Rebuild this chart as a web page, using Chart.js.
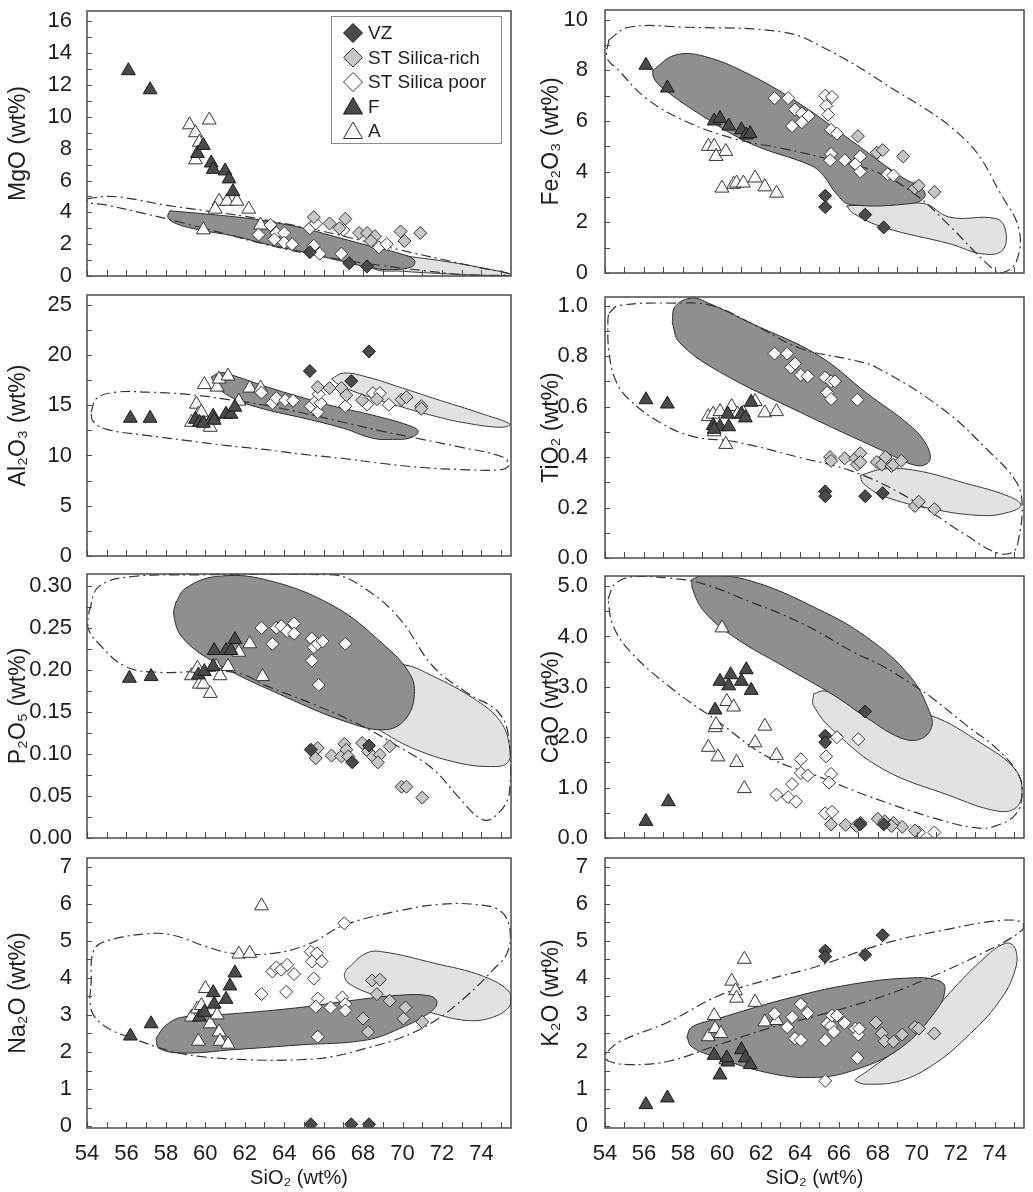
<!DOCTYPE html>
<html>
<head>
<meta charset="utf-8">
<script src="https://cdn.jsdelivr.net/npm/chart.js"></script>
<style>
  body { margin: 0; background: #fff; }
  #wrap { position: relative; width: 1033px; height: 1192px; background: #fff; overflow: hidden; }
  #wrap canvas { position: absolute; }
</style>
</head>
<body>
<div id="wrap"></div>
<script>
// valores: [SiO2, óxido]
const seriesNames = ['VZ', 'ST Silica-rich', 'ST Silica poor', 'F', 'A'];
const xTickRange = [54, 75.5];

// MgO
const mgoVZ = [[65.3,1.5],[67.3,0.8],[68.2,0.6]];
const mgoRich = [[65.5,3.7],[66.3,3.3],[67.1,3.6],[66.8,3.0],[67.8,2.7],[68.2,2.7],[68.6,2.5],[68.4,2.2],[69.9,2.8],[70.9,2.7],[70.1,2.2]];
const mgoPoor = [[62.7,2.6],[63.3,3.2],[63.6,2.7],[63.5,2.3],[64.0,2.7],[64.0,2.1],[64.4,2.0],[65.3,3.0],[65.6,3.3],[65.5,1.9],[65.8,1.4],[66.9,1.4],[67.0,2.9],[68.8,1.8],[69.2,2.0]];
const mgoF = [[56.1,12.9],[57.2,11.7],[59.6,7.7],[59.9,8.2],[60.3,7.1],[60.4,6.7],[61.0,6.6],[61.2,6.1],[61.4,5.3]];
const mgoA = [[59.2,9.5],[60.2,9.8],[59.5,9.0],[59.7,8.4],[59.5,7.3],[60.7,4.7],[61.1,4.7],[61.6,4.7],[60.5,4.2],[62.2,4.2],[59.9,2.9],[62.8,3.2]];
const mgoDark = [[58.2,4.1],[60,3.9],[62,3.65],[63.1,3.45],[65,3.0],[66.5,2.5],[68,2.0],[69.9,1.4],[70.6,1.0],[70.5,0.6],[69.5,0.4],[68.5,0.5],[66.5,1.05],[65,1.5],[63.1,2.0],[61.5,2.5],[59.7,2.9],[58.5,3.3],[58.1,3.7]];
const mgoLight = [[68.5,1.5],[70.5,1.2],[72.5,0.85],[74.5,0.4],[75.5,0.12],[75.5,0.03],[74,0.05],[72,0.15],[70,0.3],[68.5,0.5]];
const mgoDash = [[54,4.85],[55,5.0],[56,4.9],[58,4.45],[60,4.1],[62,3.75],[64,3.3],[66,2.8],[68,2.2],[70,1.6],[72,1.05],[74,0.5],[75.4,0.15],[75,0.05],[73,0.1],[71,0.35],[69,0.65],[67,1.0],[65,1.45],[63,2.0],[61,2.65],[59,3.3],[57,3.9],[55,4.45],[54,4.65]];

// Fe2O3
const feVZ = [[65.3,3.05],[65.3,2.6],[67.35,2.3],[68.3,1.8]];
const feRich = [[66.98,5.4],[67.95,4.75],[68.25,4.85],[69.3,4.6],[69.9,3.35],[70.1,3.45],[70.9,3.2]];
const fePoor = [[62.7,6.9],[63.4,6.9],[63.75,6.45],[64.1,6.3],[64.45,6.2],[63.6,5.8],[64.1,5.95],[65.3,7.0],[65.65,6.95],[65.35,6.6],[65.45,6.25],[65.6,5.65],[65.9,5.5],[65.6,4.7],[65.55,4.45],[66.3,4.45],[66.85,4.3],[67.1,4.6],[67.1,4.0],[68.5,3.9],[68.8,3.85]];
const feF = [[56.1,8.2],[57.2,7.3],[59.6,6.0],[59.9,6.1],[60.35,5.8],[61.0,5.65],[61.25,5.45],[61.45,5.5]];
const feA = [[59.3,5.0],[59.6,5.0],[59.7,4.6],[60.2,4.8],[60.0,3.35],[60.6,3.5],[60.75,3.55],[61.1,3.55],[61.7,3.75],[62.2,3.4],[62.8,3.15]];
const feDark = [[56.45,8.0],[57.6,8.6],[59.1,8.55],[61.5,7.8],[64.05,6.65],[66.6,5.25],[69.1,3.85],[70.3,3.3],[70.4,3.0],[69.8,2.75],[66.6,2.7],[65.9,3.1],[65.2,3.85],[64.55,4.25],[61.5,5.1],[59.0,6.2],[56.95,7.3],[56.5,7.7]];
const feLight = [[66.4,2.65],[70.3,2.75],[71.7,2.2],[74.05,2.15],[74.55,1.7],[74.4,0.9],[73.4,0.75],[71.7,1.15],[68.3,1.8],[66.75,2.35]];
const feDash = [[54.2,9.2],[55.2,9.7],[58.1,9.7],[63.2,9.5],[65.2,8.9],[68.3,7.5],[72.5,5.25],[74.4,3.0],[75.25,1.7],[75.1,0.45],[74.4,0.02],[73.7,0.3],[71.7,1.85],[70.0,3.05],[67.9,4.0],[65.2,4.55],[63.2,4.9],[60.65,5.3],[58.1,6.0],[56.1,6.9],[54.7,8.0],[54.1,8.5]];

// Al2O3
const alVZ = [[65.3,18.4],[67.4,17.4],[68.3,20.35]];
const alRich = [[65.7,16.8],[66.3,16.7],[66.9,16.7],[67.15,16.0],[67.95,15.5],[68.7,15.6],[69.95,15.55],[70.2,15.8],[70.95,14.9],[70.95,14.65]];
const alPoor = [[62.85,16.25],[63.4,15.2],[63.6,15.7],[64.05,15.5],[64.45,15.45],[65.35,14.9],[65.7,14.3],[65.6,15.4],[65.85,15.2],[65.75,16.1],[67.1,14.9],[68.2,15.05],[68.5,16.2],[68.85,16.2],[69.3,15.05]];
const alF = [[56.2,13.7],[57.2,13.7],[59.5,13.6],[59.7,13.3],[59.9,13.2],[60.4,13.9],[60.45,13.5],[61.05,14.1],[61.3,14.1],[61.5,14.8]];
const alA = [[59.3,13.3],[59.55,15.1],[59.65,14.1],[59.8,14.3],[60.25,12.8],[59.95,17.05],[60.6,16.8],[60.7,17.6],[61.15,17.9],[61.7,15.4],[62.25,16.7],[62.8,16.7]];
const alDark = [[60.3,17.8],[60.8,18.25],[61.5,17.9],[63,16.9],[64.5,16.0],[66.5,14.9],[68.5,14.0],[70.3,13.0],[70.8,12.4],[70.4,11.75],[69.5,11.6],[68.5,11.7],[67,12.7],[65,13.7],[63,14.6],[61.5,15.6],[60.6,16.8]];
const alLight = [[66.4,17.6],[67,18.2],[68.2,17.8],[70,16.7],[71.55,15.7],[74.1,14.1],[75.45,13.1],[74.95,12.8],[73,13.3],[71.55,13.95],[70,14.8],[68.2,15.9],[66.9,16.9]];
const alDash = [[54.2,14.3],[54.5,15.7],[55.5,16.3],[57,16.3],[59,16.1],[61,15.6],[63,15.0],[65,14.2],[67,13.3],[69,12.4],[71,11.6],[73,10.8],[75,9.9],[75.4,9.1],[75,8.6],[73,8.6],[71,8.8],[69,9.2],[67,9.7],[65,10.1],[63,10.6],[61,11.0],[59,11.5],[57,12.0],[55,12.6],[54.3,13.4]];

// TiO2
const tiVZ = [[65.3,0.264],[65.3,0.245],[67.35,0.245],[68.25,0.257]];
const tiRich = [[65.55,0.40],[65.6,0.385],[66.3,0.395],[66.85,0.395],[67.1,0.415],[66.95,0.37],[67.1,0.38],[67.95,0.38],[68.2,0.37],[68.4,0.40],[68.7,0.365],[68.8,0.37],[69.2,0.385],[69.9,0.206],[70.1,0.223],[70.9,0.194]];
const tiPoor = [[62.7,0.81],[63.35,0.81],[63.55,0.755],[63.75,0.77],[64.05,0.725],[64.4,0.72],[65.3,0.715],[65.6,0.70],[65.8,0.70],[65.4,0.655],[65.6,0.63],[66.95,0.627]];
const tiF = [[56.1,0.627],[57.2,0.61],[59.55,0.525],[59.9,0.52],[60.35,0.52],[60.3,0.57],[61.0,0.57],[61.2,0.555],[61.5,0.617],[59.6,0.51]];
const tiA = [[59.3,0.56],[59.55,0.57],[59.9,0.58],[60.5,0.60],[60.8,0.57],[61.1,0.575],[61.7,0.62],[62.2,0.575],[62.8,0.58],[59.6,0.50],[60.2,0.45]];
const tiDark = [[57.45,0.932],[57.6,0.996],[58.45,1.03],[59.3,1.01],[61.5,0.93],[64.9,0.805],[67.45,0.652],[69.65,0.525],[70.5,0.448],[70.65,0.385],[70.0,0.366],[68.3,0.423],[64.05,0.576],[59.8,0.741],[57.8,0.856]];
const tiLight = [[67.1,0.327],[68.3,0.353],[70.0,0.346],[72.5,0.296],[74.7,0.245],[75.35,0.209],[74.7,0.181],[73.4,0.168],[70.8,0.194],[68.3,0.245],[67.25,0.296]];
const tiDash = [[54.2,0.97],[54.7,1.0],[57.6,1.01],[59.5,1.0],[61.5,0.93],[64.05,0.83],[66.6,0.786],[67.95,0.754],[71.35,0.589],[73.7,0.423],[75.05,0.308],[75.4,0.219],[75.2,0.066],[74.9,0.022],[74.05,0.022],[72.5,0.092],[69.15,0.257],[66.6,0.346],[64.05,0.397],[60.65,0.461],[58.6,0.48],[56.95,0.531],[55.25,0.627],[54.55,0.703],[54.2,0.818],[54.15,0.945]];

// P2O5
const pVZ = [[65.35,0.105],[67.45,0.090],[68.3,0.110]];
const pRich = [[65.7,0.107],[65.6,0.095],[66.4,0.098],[67.05,0.112],[66.9,0.097],[67.15,0.105],[67.25,0.097],[67.95,0.113],[68.25,0.103],[68.5,0.097],[68.85,0.099],[68.75,0.090],[69.35,0.109],[69.95,0.061],[70.2,0.061],[71.0,0.048]];
const pPoor = [[62.85,0.250],[63.4,0.231],[63.6,0.250],[63.85,0.252],[64.15,0.246],[64.5,0.255],[64.5,0.243],[65.4,0.237],[65.5,0.227],[65.7,0.231],[65.95,0.234],[65.4,0.211],[65.75,0.182],[67.1,0.231]];
const pF = [[56.15,0.190],[57.25,0.192],[59.65,0.194],[59.95,0.198],[60.4,0.204],[60.45,0.223],[61.05,0.223],[61.3,0.223],[61.5,0.236]];
const pA = [[59.3,0.193],[59.6,0.202],[59.7,0.183],[59.9,0.183],[60.25,0.172],[60.55,0.204],[60.75,0.193],[61.15,0.204],[61.7,0.221],[62.25,0.231],[62.9,0.192]];
const pDark = [[58.5,0.280],[59.0,0.297],[60.55,0.311],[63.1,0.307],[66.5,0.276],[69.0,0.231],[70.35,0.196],[70.6,0.171],[70.2,0.143],[69.2,0.129],[67.3,0.137],[63.95,0.169],[60.55,0.208],[58.85,0.238],[58.4,0.265]];
const pLight = [[69.0,0.15],[69.6,0.20],[70.1,0.206],[71.5,0.193],[73.6,0.166],[74.95,0.139],[75.45,0.106],[75.3,0.089],[74.45,0.085],[72.9,0.089],[70.7,0.105],[69.0,0.126],[68.6,0.135]];
const pDash = [[54.1,0.269],[54.6,0.299],[56.3,0.311],[59.7,0.313],[66.5,0.313],[68.2,0.295],[69.85,0.261],[71.55,0.204],[73.25,0.173],[74.95,0.147],[75.45,0.105],[75.4,0.051],[74.6,0.024],[73.95,0.023],[72.75,0.051],[71.55,0.082],[69.85,0.108],[67.8,0.135],[65.6,0.158],[63.1,0.181],[61.7,0.196],[59.7,0.198],[57.65,0.197],[55.95,0.204],[54.6,0.231],[54.05,0.25]];

// CaO
const caVZ = [[65.3,2.03],[65.3,1.9],[67.35,2.51],[68.3,0.27],[67.1,0.27]];
const caRich = [[65.6,0.27],[66.35,0.26],[66.9,0.24],[67.1,0.30],[68.0,0.38],[68.35,0.33],[68.8,0.30],[69.25,0.22],[69.9,0.15],[68.7,0.24]];
const caPoor = [[62.8,0.86],[63.4,0.81],[63.8,0.72],[63.6,1.07],[64.05,1.56],[64.05,1.29],[64.4,1.24],[65.35,1.62],[65.6,1.27],[65.5,1.1],[65.9,2.0],[67.0,1.96],[65.3,0.49],[65.65,0.52],[70.9,0.11],[70.1,0.11]];
const caF = [[56.1,0.33],[57.25,0.72],[59.65,2.54],[59.9,3.11],[60.45,3.24],[60.35,3.02],[61.0,3.11],[61.25,3.34],[61.5,2.93]];
const caA = [[60.0,4.17],[59.65,2.19],[59.7,2.25],[59.3,1.8],[59.8,1.61],[60.25,2.71],[60.6,2.60],[60.75,1.5],[61.15,0.98],[61.7,1.89],[62.2,2.22],[62.8,1.64]];
const caDark = [[58.45,5.13],[59.1,5.22],[61.5,5.1],[64.9,4.55],[67.45,3.98],[69.65,3.21],[70.65,2.51],[70.75,2.19],[70.15,1.96],[69.15,1.99],[67.45,2.38],[65.75,2.83],[63.2,3.4],[60.65,3.98],[59.1,4.49],[58.5,4.93]];
const caLight = [[64.7,2.86],[65.25,2.92],[66.6,2.79],[70.65,2.44],[73.35,1.87],[75.05,1.36],[75.4,0.91],[75.05,0.59],[74.05,0.54],[71.7,0.84],[68.3,1.36],[65.75,2.12],[64.7,2.63]];
const caDash = [[54.15,4.74],[54.55,5.06],[55.6,5.19],[57.25,5.16],[59.0,5.05],[61.5,4.68],[63.2,4.42],[64.9,4.1],[66.6,3.72],[68.3,3.4],[69.65,3.08],[70.85,2.76],[72.5,2.25],[74.2,1.74],[75.25,1.23],[75.4,0.84],[75.05,0.46],[74.05,0.24],[73.05,0.2],[70.85,0.4],[67.45,0.84],[64.9,1.23],[62.35,1.61],[59.8,2.31],[57.25,3.02],[55.25,3.72],[54.4,4.23]];

// Na2O
const naVZ = [[65.35,0.05],[67.4,0.05],[68.3,0.05]];
const naRich = [[68.0,2.9],[68.25,2.54],[68.45,3.93],[68.85,3.95],[68.7,3.56],[69.35,3.38],[70.05,2.9],[70.15,3.2],[71.0,2.81]];
const naPoor = [[62.85,3.56],[63.4,4.17],[63.6,4.28],[63.85,4.22],[64.15,4.35],[64.5,4.1],[64.1,3.62],[65.35,4.7],[65.65,4.66],[65.4,4.44],[65.9,4.44],[65.5,3.98],[65.7,3.44],[65.6,3.22],[66.35,3.2],[65.7,2.41],[67.05,5.47],[66.95,3.47],[67.1,3.29],[67.1,3.12]];
const naF = [[56.2,2.43],[57.25,2.76],[59.7,2.94],[59.95,3.07],[60.45,3.29],[60.4,3.6],[61.05,3.42],[61.25,3.78],[61.5,4.13]];
const naA = [[59.3,2.94],[59.6,3.16],[59.8,3.25],[59.65,2.29],[60.0,3.71],[60.25,2.76],[60.6,3.0],[60.7,2.54],[60.75,2.29],[61.15,2.21],[61.7,4.64],[62.25,4.66],[62.85,5.94]];
const naDark = [[57.5,2.37],[58.0,2.72],[58.85,2.94],[61.4,3.03],[64.8,3.2],[67.3,3.38],[69.85,3.53],[71.4,3.51],[71.75,3.34],[71.4,3.07],[69.85,2.63],[68.15,2.32],[64.8,2.19],[61.4,2.06],[58.85,1.97],[57.65,2.1]];
const naLight = [[67.15,4.22],[68.15,4.66],[69.0,4.7],[71.55,4.4],[74.1,4.04],[75.45,3.6],[75.45,3.25],[74.6,2.94],[73.25,2.85],[71.4,3.07],[68.7,3.51],[67.35,3.82],[67.05,4.04]];
const naDash = [[54.2,3.78],[54.35,4.75],[55.1,5.01],[57.15,5.19],[58.35,5.15],[60.05,4.84],[61.4,4.66],[63.45,4.66],[65.3,4.92],[67.0,5.41],[69.85,5.81],[71.9,5.98],[73.6,5.98],[74.95,5.81],[75.45,5.28],[75.3,4.66],[74.6,4.22],[73.25,3.51],[71.55,2.81],[69.85,2.37],[68.15,2.1],[66.5,1.88],[64.8,1.79],[62.25,1.79],[59.7,1.88],[58.0,2.06],[56.3,2.37],[55.1,2.63],[54.35,2.98],[54.15,3.34]];

// K2O
const kVZ = [[65.3,4.73],[65.3,4.57],[67.35,4.62],[68.25,5.15]];
const kRich = [[67.9,2.79],[68.2,2.5],[68.35,2.29],[68.8,2.28],[69.25,2.47],[69.9,2.67],[70.1,2.63],[70.9,2.5]];
const kPoor = [[62.7,3.03],[63.35,2.67],[63.6,2.94],[63.75,2.37],[64.05,2.32],[64.05,3.29],[64.4,3.05],[65.3,2.32],[65.4,2.76],[65.6,2.7],[65.65,2.98],[65.75,2.54],[65.9,2.98],[66.3,2.78],[66.85,2.63],[67.0,2.47],[67.05,2.63],[66.95,1.84],[65.3,1.22]];
const kF = [[56.1,0.58],[57.2,0.76],[59.6,1.91],[59.9,1.38],[60.3,1.73],[60.25,1.84],[61.0,2.06],[61.2,1.84],[61.45,1.66]];
const kA = [[59.3,2.41],[59.6,2.98],[59.65,2.63],[59.95,2.5],[60.2,1.79],[60.5,3.91],[60.7,3.65],[60.75,3.45],[61.15,4.5],[61.7,3.34],[62.2,2.81],[62.8,2.85]];
const kDark = [[58.2,2.41],[58.45,2.67],[59.8,2.9],[63.2,3.42],[66.6,3.82],[69.85,4.0],[71.2,3.91],[71.45,3.69],[71.05,3.16],[69.15,2.1],[66.6,1.48],[64.55,1.31],[62.35,1.44],[59.8,1.84],[58.45,2.14]];
const kLight = [[66.95,1.31],[67.45,1.48],[69.65,2.37],[71.7,3.6],[73.35,4.48],[74.55,4.93],[75.05,4.79],[75.05,4.22],[74.2,3.34],[72.5,2.37],[70.85,1.66],[69.15,1.22],[67.45,1.13],[66.85,1.22]];
const kDash = [[54.15,2.03],[54.75,2.28],[57.25,2.81],[59.8,3.51],[62.35,3.95],[64.9,4.31],[68.3,4.92],[71.7,5.32],[74.2,5.54],[75.4,5.5],[75.4,5.28],[73.35,4.66],[70.8,4.04],[68.3,3.51],[64.9,2.98],[62.35,2.63],[59.8,2.19],[57.25,1.75],[55.25,1.66],[54.2,1.75],[54.0,1.88]];

// eixos y: [min, max, passo menor, passo maior, casas decimais]
const mgoAxis = [0, 16.65, 1, 2, 0];
const feAxis = [0, 10.38, 1, 2, 0];
const alAxis = [0, 25.96, 2.5, 5, 0];
const tiAxis = [0, 1.034, 0.1, 0.2, 1];
const pAxis = [0, 0.314, 0.025, 0.05, 2];
const caAxis = [0, 5.2, 0.5, 1, 1];
const naAxis = [-0.05, 7.23, 0.5, 1, 0];
const kAxis = [-0.05, 7.23, 0.5, 1, 0];

const FONT = "'Liberation Sans', Arial, sans-serif";
const TXT = '#1e1e1e';

// estilos dos marcadores (na ordem de seriesNames)
const markers = [
  {pointStyle: 'rectRot', radius: 6.5, bg: '#4a4a4a', bd: '#1a1a1a'},
  {pointStyle: 'rectRot', radius: 6.5, bg: '#c6c6c6', bd: '#333'},
  {pointStyle: 'rectRot', radius: 6.5, bg: '#ffffff', bd: '#333'},
  {pointStyle: 'triangle', radius: 8, bg: '#4a4a4a', bd: '#1a1a1a'},
  {pointStyle: 'triangle', radius: 8, bg: '#ffffff', bd: '#333'}
];

const toXY = a => a.map(([x, y]) => ({x, y}));
const ring = a => toXY([...a, a[0]]);

// moldura + ticks para dentro
const frame = {
  id: 'frame',
  afterDraw(chart) {
    const {ctx, chartArea: a, scales: {x, y}} = chart;
    ctx.save();
    ctx.strokeStyle = '#4a4a4a';
    ctx.lineWidth = 1;
    ctx.beginPath();
    x.ticks.forEach(t => {
      const px = Math.round(x.getPixelForValue(t.value)) + 0.5;
      ctx.moveTo(px, a.bottom); ctx.lineTo(px, a.bottom - 6);
    });
    y.ticks.forEach(t => {
      const py = Math.round(y.getPixelForValue(t.value)) + 0.5;
      ctx.moveTo(a.left, py); ctx.lineTo(a.left + 5, py);
    });
    ctx.stroke();
    ctx.lineWidth = 1.5;
    ctx.strokeRect(a.left, a.top, a.right - a.left, a.bottom - a.top);
    ctx.restore();
  }
};

function marker(ctx, style, r, x, y) {
  ctx.beginPath();
  if (style === 'triangle') {
    const s = Math.sqrt(3) / 2 * r;
    ctx.moveTo(x, y - r); ctx.lineTo(x + s, y + r / 2); ctx.lineTo(x - s, y + r / 2);
  } else {
    ctx.moveTo(x, y - r); ctx.lineTo(x + r, y); ctx.lineTo(x, y + r); ctx.lineTo(x - r, y);
  }
  ctx.closePath();
  ctx.fill();
  ctx.stroke();
}

// legenda dentro do primeiro painel
const legendBox = {
  id: 'legendBox',
  afterDatasetsDraw(chart) {
    const {ctx, chartArea: a} = chart;
    const w = 170, h = 127, left = a.right - 10 - w, top = a.top + 5;
    ctx.save();
    ctx.fillStyle = '#fff';
    ctx.fillRect(left, top, w, h);
    ctx.strokeStyle = '#8a8a8a';
    ctx.lineWidth = 1;
    ctx.strokeRect(left + 0.5, top + 0.5, w, h);
    seriesNames.forEach((name, i) => {
      const m = markers[i];
      const y = top + 17 + i * 24.5;
      ctx.fillStyle = m.bg; ctx.strokeStyle = m.bd; ctx.lineWidth = 1;
      if (m.pointStyle === 'triangle') marker(ctx, 'triangle', 11, left + 22, y + 2);
      else marker(ctx, 'diamond', 9.5, left + 22, y);
      ctx.fillStyle = TXT;
      ctx.font = '19px ' + FONT;
      ctx.textBaseline = 'middle';
      ctx.textAlign = 'left';
      ctx.fillText(name, left + 37, y + 1);
    });
    ctx.restore();
  }
};

const panels = [
  {col: 0, top: 6, bottom: 281, title: 'MgO (wt%)', axis: mgoAxis, pts: [mgoVZ, mgoRich, mgoPoor, mgoF, mgoA], reg: [mgoDark, mgoLight, mgoDash], legend: true},
  {col: 1, top: 5, bottom: 278, title: 'Fe₂O₃ (wt%)', axis: feAxis, pts: [feVZ, feRich, fePoor, feF, feA], reg: [feDark, feLight, feDash]},
  {col: 0, top: 290, bottom: 561, title: 'Al₂O₃ (wt%)', axis: alAxis, pts: [alVZ, alRich, alPoor, alF, alA], reg: [alDark, alLight, alDash]},
  {col: 1, top: 292, bottom: 563, title: 'TiO₂ (wt%)', axis: tiAxis, pts: [tiVZ, tiRich, tiPoor, tiF, tiA], reg: [tiDark, tiLight, tiDash]},
  {col: 0, top: 569, bottom: 843, title: 'P₂O₅ (wt%)', axis: pAxis, pts: [pVZ, pRich, pPoor, pF, pA], reg: [pDark, pLight, pDash]},
  {col: 1, top: 571, bottom: 843, title: 'CaO (wt%)', axis: caAxis, pts: [caVZ, caRich, caPoor, caF, caA], reg: [caDark, caLight, caDash]},
  {col: 0, top: 853, bottom: 1128, title: 'Na₂O (wt%)', axis: naAxis, pts: [naVZ, naRich, naPoor, naF, naA], reg: [naDark, naLight, naDash], xLabels: true},
  {col: 1, top: 853, bottom: 1128, title: 'K₂O (wt%)', axis: kAxis, pts: [kVZ, kRich, kPoor, kF, kA], reg: [kDark, kLight, kDash], xLabels: true}
];

const wrap = document.getElementById('wrap');

panels.forEach(p => {
  const left = p.col ? 520 : 0;
  const width = p.col ? 513 : 520;
  const yAxisW = p.col ? 85 : 87;
  const padRight = p.col ? 5 : 9;
  const xAxisH = p.xLabels ? 64 : 4;
  const cTop = p.top - 4;
  const height = p.bottom + xAxisH - cTop;
  const [yMin, yMax, yStep, yMajor, yDec] = p.axis;

  const cv = document.createElement('canvas');
  cv.width = width; cv.height = height;
  cv.style.left = left + 'px'; cv.style.top = cTop + 'px';
  wrap.appendChild(cv);

  const pointSets = p.pts.map((d, i) => ({
    label: seriesNames[i],
    data: toXY(d),
    pointStyle: markers[i].pointStyle,
    pointRadius: markers[i].radius,
    backgroundColor: markers[i].bg,
    borderColor: markers[i].bd,
    borderWidth: 1,
    order: i
  }));
  const [dark, light, dash] = p.reg;
  const regionSets = [
    {type: 'line', data: ring(dash), borderColor: '#333', borderWidth: 1.2, borderDash: [10, 4, 2, 4], fill: false, pointRadius: 0, tension: 0.4, order: 5},
    {type: 'line', data: ring(dark), borderColor: '#2e2e2e', borderWidth: 1, backgroundColor: '#8f8f8f', fill: 'shape', pointRadius: 0, tension: 0.4, order: 6},
    {type: 'line', data: ring(light), borderColor: '#3a3a3a', borderWidth: 1, backgroundColor: '#e2e2e2', fill: 'shape', pointRadius: 0, tension: 0.4, order: 7}
  ];

  new Chart(cv, {
    type: 'scatter',
    data: {datasets: [...pointSets, ...regionSets]},
    options: {
      responsive: false,
      animation: false,
      events: [],
      layout: {padding: {top: 4, right: padRight, left: 0, bottom: 0}},
      plugins: {legend: {display: false}, tooltip: {enabled: false}},
      scales: {
        x: {
          type: 'linear', position: 'bottom',
          min: xTickRange[0], max: xTickRange[1],
          afterFit: s => { s.height = xAxisH; s.paddingLeft = 0; s.paddingRight = 0; },
          grid: {display: false},
          border: {display: false},
          ticks: {
            display: !!p.xLabels, stepSize: 1, autoSkip: false, includeBounds: false,
            maxRotation: 0, padding: 5, color: TXT,
            font: {family: FONT, size: 22},
            callback: v => (v % 2 === 0 ? String(v) : '')
          },
          title: {display: !!p.xLabels, text: 'SiO₂ (wt%)', color: TXT, font: {family: FONT, size: 20}, padding: {top: 0, bottom: 2}}
        },
        y: {
          type: 'linear', position: 'left',
          min: yMin, max: yMax,
          afterFit: s => { s.width = yAxisW; s.paddingTop = 0; s.paddingBottom = 0; },
          grid: {display: false},
          border: {display: false},
          ticks: {
            stepSize: yStep, autoSkip: false, includeBounds: false,
            padding: p.col ? 9 : 7, color: TXT,
            font: {family: FONT, size: 22},
            callback: v => {
              const k = v / yMajor;
              return Math.abs(k - Math.round(k)) < 1e-6 ? Number(v).toFixed(yDec) : '';
            }
          },
          title: {display: true, text: p.title, color: TXT, font: {family: FONT, size: 23}, padding: {top: p.col ? 18 : 5, bottom: 0}}
        }
      }
    },
    plugins: p.legend ? [frame, legendBox] : [frame]
  });
});
</script>
</body>
</html>
